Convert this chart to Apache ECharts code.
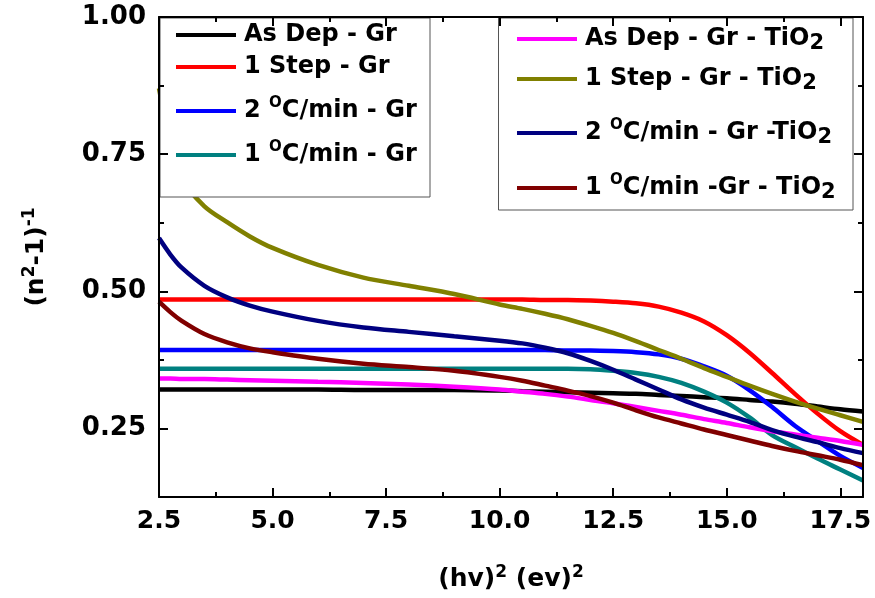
<!DOCTYPE html>
<html>
<head>
<meta charset="utf-8">
<script src="https://cdn.jsdelivr.net/npm/echarts@6/dist/echarts.min.js"></script>
<style>
  html, body { margin: 0; padding: 0; background: #ffffff; }
  #chart { width: 875px; height: 598px; }
</style>
</head>
<body>
<div id="chart"></div>
<script>
// (hv)^2 sample positions shared by every curve
const photonEnergySq = [2.5, 2.75, 3, 3.5, 4, 4.5, 5, 6, 7, 8, 9, 10, 10.5, 11, 11.5, 12, 12.5, 13, 13.5, 14, 14.5, 15, 15.5, 16, 16.5, 17, 17.5, 18];

// (n^2-1)^-1 for each sample
const asDepGr      = [0.321, 0.321, 0.321, 0.321, 0.321, 0.321, 0.321, 0.321, 0.320, 0.320, 0.320, 0.319, 0.318, 0.317, 0.316, 0.315, 0.314, 0.313, 0.311, 0.309, 0.307, 0.305, 0.302, 0.299, 0.295, 0.290, 0.285, 0.281];
const oneStepGr    = [0.485, 0.485, 0.485, 0.485, 0.485, 0.485, 0.485, 0.485, 0.485, 0.485, 0.485, 0.485, 0.485, 0.484, 0.484, 0.483, 0.481, 0.478, 0.472, 0.461, 0.445, 0.420, 0.388, 0.351, 0.313, 0.277, 0.245, 0.220];
const twoDegGr     = [0.393, 0.393, 0.393, 0.393, 0.393, 0.393, 0.393, 0.393, 0.393, 0.393, 0.393, 0.393, 0.393, 0.393, 0.392, 0.392, 0.391, 0.389, 0.385, 0.377, 0.363, 0.346, 0.320, 0.289, 0.255, 0.227, 0.200, 0.178];
const oneDegGr     = [0.359, 0.359, 0.359, 0.359, 0.359, 0.359, 0.359, 0.359, 0.359, 0.359, 0.359, 0.359, 0.359, 0.359, 0.359, 0.358, 0.355, 0.351, 0.344, 0.333, 0.317, 0.297, 0.270, 0.238, 0.216, 0.195, 0.175, 0.155];
const asDepGrTiO2  = [0.341, 0.341, 0.340, 0.340, 0.339, 0.338, 0.337, 0.335, 0.333, 0.330, 0.326, 0.321, 0.317, 0.313, 0.308, 0.302, 0.296, 0.289, 0.282, 0.275, 0.267, 0.260, 0.252, 0.245, 0.239, 0.233, 0.227, 0.220];
const oneStepGrTiO2 = [0.870, 0.770, 0.705, 0.655, 0.626, 0.600, 0.579, 0.548, 0.525, 0.510, 0.495, 0.476, 0.468, 0.459, 0.449, 0.437, 0.424, 0.409, 0.393, 0.377, 0.360, 0.344, 0.328, 0.313, 0.299, 0.286, 0.274, 0.262];
const twoDegGrTiO2 = [0.597, 0.567, 0.543, 0.510, 0.489, 0.474, 0.463, 0.446, 0.434, 0.426, 0.418, 0.410, 0.405, 0.397, 0.387, 0.373, 0.357, 0.339, 0.321, 0.303, 0.288, 0.275, 0.262, 0.247, 0.235, 0.225, 0.214, 0.205];
const oneDegGrTiO2 = [0.481, 0.462, 0.446, 0.422, 0.407, 0.396, 0.389, 0.377, 0.368, 0.362, 0.355, 0.344, 0.337, 0.328, 0.319, 0.309, 0.297, 0.283, 0.270, 0.259, 0.248, 0.238, 0.228, 0.218, 0.209, 0.201, 0.193, 0.183];

const seriesNames = [
  'As Dep - Gr', '1 Step - Gr', '2 °C/min - Gr', '1 °C/min - Gr',
  'As Dep - Gr - TiO2', '1 Step - Gr - TiO2', '2 °C/min - Gr -TiO2', '1 °C/min -Gr - TiO2'
];
const legendLabels = [
  'As Dep - Gr', '1 Step - Gr', '2 {sup|O}C/min - Gr', '1 {sup|O}C/min - Gr',
  'As Dep - Gr - TiO{sub|2}', '1 Step - Gr - TiO{sub|2}', '2 {sup|O}C/min - Gr -TiO{sub|2}', '1 {sup|O}C/min -Gr - TiO{sub|2}'
];
const seriesValues = [asDepGr, oneStepGr, twoDegGr, oneDegGr, asDepGrTiO2, oneStepGrTiO2, twoDegGrTiO2, oneDegGrTiO2];
const seriesColors = ['#000000', '#ff0000', '#0000ff', '#008080', '#ff00ff', '#808000', '#000080', '#800000'];

// axis ticks
const xMajorTicks = [2.5, 5.0, 7.5, 10.0, 12.5, 15.0, 17.5];
const xMinorTicks = [3.75, 6.25, 8.75, 11.25, 13.75, 16.25];
const yMajorTicks = [0.25, 0.50, 0.75, 1.00];
const yMinorTicks = [0.375, 0.625, 0.875];

const FONT = 'DejaVu Sans';
const X_MIN = 2.5, X_MAX = 18, Y_MIN = 0.125, Y_MAX = 1.0;

const chart = echarts.init(document.getElementById('chart'), null, { renderer: 'canvas' });

function xAxisDef(position, ticks, len, showLine, showLabel, extra) {
  return Object.assign({
    type: 'value', position: position, min: X_MIN, max: X_MAX, z: 5,
    axisLine: { show: showLine, onZero: false, lineStyle: { color: '#000', width: 2 } },
    axisTick: { show: true, inside: true, length: len, customValues: ticks, lineStyle: { color: '#000', width: 2 } },
    axisLabel: showLabel ? {
      show: true, customValues: ticks, margin: 12,
      formatter: v => v.toFixed(1),
      fontFamily: FONT, fontWeight: 'bold', fontSize: 25, color: '#000'
    } : { show: false },
    splitLine: { show: false }
  }, extra || {});
}
function yAxisDef(position, ticks, len, showLine, showLabel, extra) {
  return Object.assign({
    type: 'value', position: position, min: Y_MIN, max: Y_MAX, z: 5,
    axisLine: { show: showLine, onZero: false, lineStyle: { color: '#000', width: 2 } },
    axisTick: { show: true, inside: true, length: len, customValues: ticks, lineStyle: { color: '#000', width: 2 } },
    axisLabel: showLabel ? {
      show: true, customValues: ticks, margin: 13,
      formatter: v => v.toFixed(2),
      fontFamily: FONT, fontWeight: 'bold', fontSize: 26, color: '#000'
    } : { show: false },
    splitLine: { show: false }
  }, extra || {});
}

const supStyle = { fontFamily: FONT, fontWeight: 'bold', fontSize: 15, color: '#000', lineHeight: 5, verticalAlign: 'top' };
const subStyle = { fontFamily: FONT, fontWeight: 'bold', fontSize: 21, color: '#000', lineHeight: 12, verticalAlign: 'bottom' };

// legend rows: [left, icon centre y]
const legendSlots = [
  [176, 35], [176, 67], [176, 111], [176, 155],
  [517, 39], [517, 79], [517, 133], [517, 188]
];

const legends = seriesNames.map((name, i) => ({
  data: [name],
  left: legendSlots[i][0],
  top: legendSlots[i][1] - 15,
  padding: 0,
  z: 6,
  icon: 'rect',
  itemWidth: 60,
  itemHeight: 4,
  selectedMode: false,
  formatter: () => legendLabels[i],
  textStyle: {
    fontFamily: FONT, fontWeight: 'bold', fontSize: 24, color: '#000', lineHeight: 30,
    padding: [0, 0, 0, 3],
    rich: { sup: supStyle, sub: subStyle }
  }
}));

const option = {
  backgroundColor: '#ffffff',
  animation: false,
  grid: { left: 159, right: 12, top: 17, bottom: 101, containLabel: false, outerBoundsMode: 'none' },
  graphic: [
    { type: 'rect', z: 3, shape: { x: 160, y: 18, width: 270, height: 179 }, style: { fill: '#ffffff', stroke: '#555555', lineWidth: 1 } },
    { type: 'rect', z: 3, shape: { x: 498.5, y: 18, width: 354.5, height: 192 }, style: { fill: '#ffffff', stroke: '#555555', lineWidth: 1 } }
  ],
  legend: legends,
  xAxis: [
    xAxisDef('bottom', xMajorTicks, 9, true, true, {
      name: '(hv){sup|2} (ev){sup|2}',
      nameLocation: 'middle', nameGap: 67,
      nameTextStyle: {
        fontFamily: FONT, fontWeight: 'bold', fontSize: 25, color: '#000', lineHeight: 30,
        rich: { sup: { fontFamily: FONT, fontWeight: 'bold', fontSize: 17, color: '#000', lineHeight: 8, verticalAlign: 'top' } }
      }
    }),
    xAxisDef('bottom', xMinorTicks, 5, false, false),
    xAxisDef('top', xMajorTicks, 9, true, false),
    xAxisDef('top', xMinorTicks, 5, false, false)
  ],
  yAxis: [
    yAxisDef('left', yMajorTicks, 9, true, true, {
      name: '(n{sup|2}-1){sup|-1}',
      nameLocation: 'middle', nameGap: 108,
      nameTextStyle: {
        fontFamily: FONT, fontWeight: 'bold', fontSize: 25, color: '#000', lineHeight: 30,
        rich: { sup: { fontFamily: FONT, fontWeight: 'bold', fontSize: 17, color: '#000', lineHeight: 8, verticalAlign: 'top' } }
      }
    }),
    yAxisDef('left', yMinorTicks, 5, false, false),
    yAxisDef('right', yMajorTicks, 9, true, false),
    yAxisDef('right', yMinorTicks, 5, false, false)
  ],
  series: seriesNames.map((name, i) => ({
    name: name,
    type: 'line',
    xAxisIndex: 0,
    yAxisIndex: 0,
    data: photonEnergySq.map((x, k) => [x, seriesValues[i][k]]),
    smooth: 0.3,
    showSymbol: false,
    symbol: 'none',
    color: seriesColors[i],
    lineStyle: { color: seriesColors[i], width: 4.5 },
    z: 2
  }))
};

chart.setOption(option);
</script>
</body>
</html>
